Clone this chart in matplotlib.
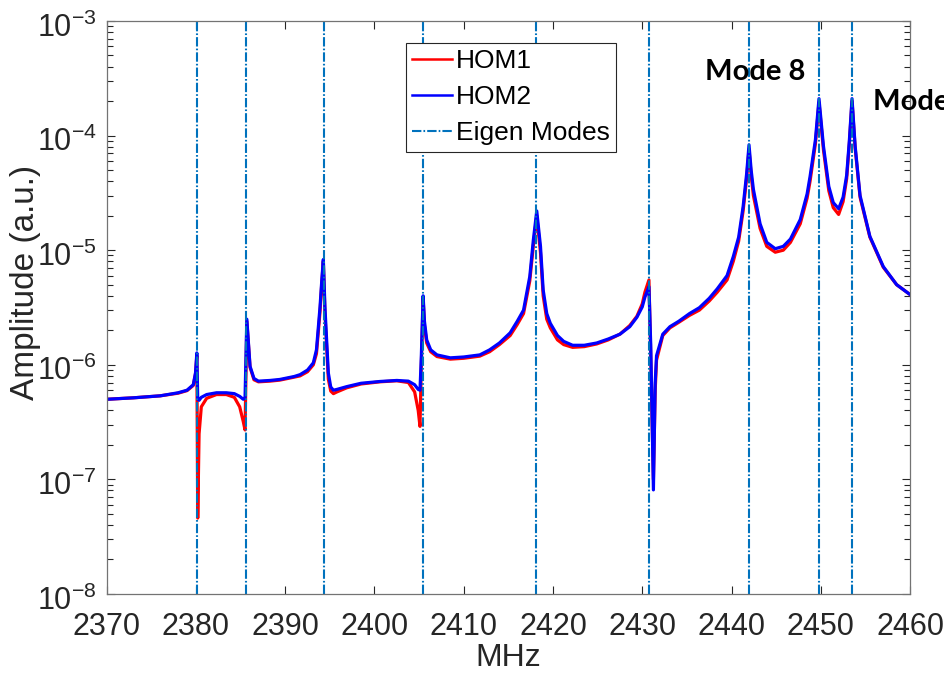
import matplotlib
matplotlib.use("Agg")
import matplotlib.pyplot as plt
import matplotlib.transforms as mtransforms
from matplotlib.lines import Line2D

plt.rcParams['font.family'] = ['Liberation Sans', 'DejaVu Sans']
plt.rcParams['mathtext.fontset'] = 'custom'
plt.rcParams['mathtext.rm'] = 'Liberation Sans'
plt.rcParams['mathtext.it'] = 'Liberation Sans'
plt.rcParams['mathtext.default'] = 'regular'

# ---- data ----
freq_mhz = [2370.0, 2373.0, 2376.0, 2378.0, 2379.0, 2379.7, 2379.95, 2380.1, 2380.2, 2380.35,
            2380.6, 2381.2, 2382.3, 2383.4, 2384.3, 2384.9, 2385.3, 2385.5, 2385.7, 2386.06,
            2386.5, 2387.0, 2388.3, 2389.4, 2391.0, 2391.66, 2392.5, 2393.15, 2393.5, 2393.9,
            2394.1, 2394.27, 2394.45, 2394.83, 2395.1, 2395.4, 2395.8, 2396.9, 2398.5, 2400.6,
            2402.5, 2403.8, 2404.5, 2404.9, 2405.1, 2405.25, 2405.45, 2405.6, 2405.85, 2406.3,
            2407.0, 2408.5, 2410.0, 2411.8, 2412.9, 2414.0, 2415.2, 2416.0, 2416.7, 2417.4,
            2417.8, 2418.18, 2418.6, 2418.9, 2419.3, 2419.7, 2420.5, 2421.2, 2422.2, 2423.5,
            2424.9, 2426.2, 2427.5, 2428.6, 2429.4, 2430.0, 2430.3, 2430.75, 2430.95, 2431.25,
            2431.45, 2431.6, 2432.3, 2433.1, 2434.1, 2435.3, 2436.4, 2437.5, 2438.4, 2439.5,
            2440.2, 2440.8, 2441.3, 2441.7, 2441.96, 2442.2, 2442.45, 2443.2, 2443.95, 2444.9,
            2445.8, 2446.6, 2447.7, 2448.47, 2448.8, 2449.4, 2449.8, 2450.3, 2450.9, 2451.4,
            2452.0, 2452.5, 2452.9, 2453.2, 2453.5, 2453.85, 2454.4, 2455.5, 2457.0, 2458.5,
            2460.0]

hom2_amp = [5.0e-7, 5.15e-7, 5.36e-7, 5.7e-7, 6.0e-7, 6.7e-7, 8.5e-7, 1.27e-6, 5.0e-7, 4.9e-7,
            5.2e-7, 5.5e-7, 5.7e-7, 5.7e-7, 5.6e-7, 5.3e-7, 5.0e-7, 5.2e-7, 2.5e-6, 9.7e-7,
            7.6e-7, 7.2e-7, 7.3e-7, 7.45e-7, 7.9e-7, 8.2e-7, 9.0e-7, 1.04e-6, 1.35e-6, 3.2e-6,
            5.5e-6, 8.3e-6, 3.2e-6, 8.5e-7, 6.4e-7, 6.0e-7, 6.1e-7, 6.45e-7, 6.9e-7, 7.15e-7,
            7.3e-7, 7.2e-7, 6.7e-7, 6.1e-7, 6.0e-7, 1.2e-6, 4.0e-6, 2.4e-6, 1.65e-6, 1.35e-6,
            1.22e-6, 1.15e-6, 1.17e-6, 1.22e-6, 1.35e-6, 1.55e-6, 1.9e-6, 2.4e-6, 3.0e-6, 5.9e-6,
            1.23e-5, 2.2e-5, 1.08e-5, 4.5e-6, 2.8e-6, 2.3e-6, 1.8e-6, 1.6e-6, 1.48e-6, 1.48e-6,
            1.55e-6, 1.68e-6, 1.85e-6, 2.15e-6, 2.6e-6, 3.2e-6, 3.9e-6, 4.8e-6, 1.5e-6, 8.1e-8,
            7.0e-7, 1.2e-6, 1.85e-6, 2.15e-6, 2.4e-6, 2.8e-6, 3.15e-6, 3.8e-6, 4.6e-6, 6.0e-6,
            8.8e-6, 1.3e-5, 2.4e-5, 4.7e-5, 8.3e-5, 5.0e-5, 3.4e-5, 1.7e-5, 1.17e-5, 1.03e-5,
            1.08e-5, 1.25e-5, 1.85e-5, 3.1e-5, 4.4e-5, 9.2e-5, 2.1e-4, 8.1e-5, 3.6e-5, 2.6e-5,
            2.3e-5, 2.9e-5, 4.5e-5, 9.0e-5, 2.1e-4, 8.1e-5, 3.0e-5, 1.32e-5, 7.2e-6, 5.0e-6,
            4.1e-6]

hom1_amp = [5.0e-7, 5.15e-7, 5.36e-7, 5.65e-7, 5.95e-7, 6.6e-7, 8.3e-7, 1.2e-6, 4.6e-8, 2.5e-7,
            4.3e-7, 5.1e-7, 5.5e-7, 5.5e-7, 5.2e-7, 4.3e-7, 3.2e-7, 2.7e-7, 2.4e-6, 9.5e-7,
            7.4e-7, 7.1e-7, 7.2e-7, 7.35e-7, 7.8e-7, 8.0e-7, 8.7e-7, 1.0e-6, 1.25e-6, 2.9e-6,
            5.2e-6, 8.0e-6, 2.8e-6, 7.5e-7, 5.9e-7, 5.6e-7, 5.8e-7, 6.3e-7, 6.8e-7, 7.1e-7,
            7.25e-7, 7.0e-7, 5.8e-7, 4.0e-7, 2.9e-7, 1.0e-6, 3.8e-6, 2.2e-6, 1.55e-6, 1.3e-6,
            1.18e-6, 1.12e-6, 1.14e-6, 1.19e-6, 1.3e-6, 1.5e-6, 1.8e-6, 2.25e-6, 2.8e-6, 5.4e-6,
            1.1e-5, 2.0e-5, 9.5e-6, 4.0e-6, 2.5e-6, 2.1e-6, 1.65e-6, 1.5e-6, 1.42e-6, 1.44e-6,
            1.52e-6, 1.65e-6, 1.85e-6, 2.2e-6, 2.65e-6, 3.4e-6, 4.3e-6, 5.5e-6, 1.2e-6, 1.0e-7,
            6.0e-7, 1.1e-6, 1.8e-6, 2.1e-6, 2.35e-6, 2.7e-6, 3.0e-6, 3.6e-6, 4.3e-6, 5.5e-6,
            8.0e-6, 1.2e-5, 2.2e-5, 4.3e-5, 7.6e-5, 4.5e-5, 3.0e-5, 1.55e-5, 1.08e-5, 9.6e-6,
            1.0e-5, 1.17e-5, 1.7e-5, 2.85e-5, 4.0e-5, 8.5e-5, 1.95e-4, 7.5e-5, 3.3e-5, 2.35e-5,
            2.05e-5, 2.65e-5, 4.2e-5, 8.5e-5, 2.0e-4, 7.8e-5, 2.9e-5, 1.3e-5, 7.1e-6, 5.0e-6,
            4.1e-6]

eigen_modes = [2380.08, 2385.57, 2394.35, 2405.44, 2418.1, 2430.76, 2441.96, 2449.8, 2453.5]

x_ticks = [2370, 2380, 2390, 2400, 2410, 2420, 2430, 2440, 2450, 2460]
series_labels = ['HOM1', 'HOM2', 'Eigen Modes']
annotations = [('Mode 8', 2442.6, 3.6e-4, 'center'), ('Mode 9', 2455.85, 1.96e-4, 'left')]

# ---- figure ----
fig = plt.figure(figsize=(9.45, 6.79), dpi=100)
ax = fig.add_axes([0.1129, 0.1252, 0.8501, 0.8439])

red_line, = ax.plot(freq_mhz, hom1_amp, color='#ff0000', lw=2.3, solid_joinstyle='round')
blue_line, = ax.plot(freq_mhz, hom2_amp, color='#0000ff', lw=2.3, solid_joinstyle='round')

mode_color = '#0072BD'
mode_style = (0, (4.5, 1.0, 0.8, 1.0))
for m in eigen_modes:
    ax.axvline(m, color=mode_color, lw=1.5, linestyle=mode_style)

ax.set_yscale('log')
ax.set_xlim(2370, 2460)
ax.set_ylim(1e-8, 1e-3)
ax.set_xticks(x_ticks)
ax.set_xticklabels([str(t) for t in x_ticks])

ax.tick_params(axis='both', which='both', direction='in', top=True, right=True,
               colors='0.15', labelcolor='0.15', width=0.8)
ax.tick_params(axis='x', which='major', length=6, labelsize=22, pad=13)
ax.tick_params(axis='x', which='minor', length=0)
ax.tick_params(axis='y', which='major', length=6, labelsize=22, pad=7)
ax.tick_params(axis='y', which='minor', length=4)
for s in ax.spines.values():
    s.set_color('0.45')
    s.set_linewidth(0.9)

# shift y tick labels slightly down (MATLAB-like placement of the exponent labels)
offset = mtransforms.ScaledTranslation(0, -2.5 / 72, fig.dpi_scale_trans)
for lab in ax.get_yticklabels():
    lab.set_transform(lab.get_transform() + offset)

ax.set_xlabel('MHz', fontsize=23, color='0.15')
ax.set_ylabel('Amplitude (a.u.)', fontsize=24, color='0.15')
ax.xaxis.set_label_coords(0.5, -0.085)
ax.yaxis.set_label_coords(-0.082, 0.543)

mode_handle = Line2D([], [], color=mode_color, lw=1.5, linestyle=mode_style)
leg = fig.legend([red_line, blue_line, mode_handle], series_labels,
                 loc='upper left', bbox_to_anchor=(0.4293, 0.9371),
                 fontsize=19, frameon=True, fancybox=False, framealpha=1,
                 edgecolor='0.15', borderpad=0.25, labelspacing=0.45,
                 handlelength=1.5, handletextpad=0.15, borderaxespad=0)
leg.get_frame().set_linewidth(0.8)
for t in leg.get_texts():
    t.set_color('black')
for h in leg.legend_handles[:2]:
    h.set_linewidth(1.8)

for txt, xv, yv, ha in annotations:
    ax.text(xv, yv, txt, fontsize=21, fontweight='bold', family=['Lato', 'DejaVu Sans'],
            ha=ha, va='center', color='black', clip_on=False)

fig.savefig('out.png', dpi=100)
